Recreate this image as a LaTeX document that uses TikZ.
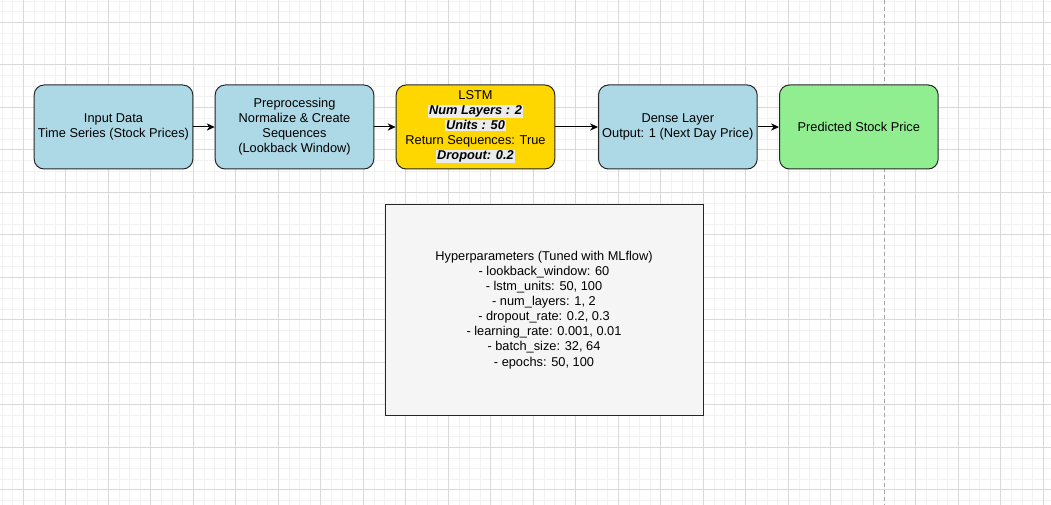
\documentclass[tikz,border=0pt]{standalone}
\usepackage{fontspec}
\setmainfont{Liberation Sans}
\usetikzlibrary{arrows.meta,positioning}
\definecolor{boxblue}{HTML}{ADD8E6}
\definecolor{boxgold}{HTML}{FFD700}
\definecolor{boxgreen}{HTML}{90EE90}
\definecolor{boxgrey}{HTML}{F5F5F5}
\definecolor{hlgrey}{HTML}{EBEBEB}
\newcommand{\hlt}[1]{{\setlength{\fboxsep}{0.6pt}\colorbox{hlgrey}{\textbf{\textit{#1}}}}}

\begin{document}
\begin{tikzpicture}[x=0.75pt, y=-0.75pt, node distance=16pt,
  every node/.style={font=\fontsize{9.6}{11.3}\selectfont},
  box/.style={draw=black!85, line width=0.75pt, rounded corners=7.5pt, align=center,
    minimum width=119pt, minimum height=63pt, inner sep=2pt},
  arr/.style={-{Stealth[length=6pt, width=5.5pt]}, line width=0.75pt},
  minorgrid/.style={draw=black!5, line width=0.5pt},
  majorgrid/.style={draw=black!15, line width=0.5pt}]
\useasboundingbox (0,0) rectangle (1051,505);
\fill[white] (0,0) rectangle (1051,505);
% canvas grid
\foreach \i in {0,...,98} \draw[minorgrid] ({2.05+\i*10.625},0) -- ({2.05+\i*10.625},505);
\foreach \j in {0,...,47} \draw[minorgrid] (0,{1.05+\j*10.625}) -- (1051,{1.05+\j*10.625});
\foreach \i in {0,...,24} \draw[majorgrid] ({23.3+\i*42.5},0) -- ({23.3+\i*42.5},505);
\foreach \j in {0,...,11} \draw[majorgrid] (0,{22.3+\j*42.5}) -- (1051,{22.3+\j*42.5});
\draw[black!35, line width=0.75pt, dash pattern=on 3pt off 2.25pt] (884.5,0) -- (884.5,505);
% pipeline
\node[box, fill=boxblue] (input) at (113.5,127) {Input Data\\Time Series (Stock Prices)};
\node[box, fill=boxblue, right=of input] (prep) {Preprocessing\\Normalize \& Create\\Sequences\\(Lookback Window)};
\node[box, fill=boxgold, right=of prep] (lstm) {LSTM\\\hlt{Num Layers : 2}\\\hlt{Units : 50}\\Return Sequences: True\\\hlt{Dropout: 0.2}};
\node[box, fill=boxblue, right=32pt of lstm] (dense) {Dense Layer\\Output: 1 (Next Day Price)};
\node[box, fill=boxgreen, right=of dense] (pred) {Predicted Stock Price};
\draw[arr] (input) -- (prep); \draw[arr] (prep) -- (lstm); \draw[arr] (lstm) -- (dense); \draw[arr] (dense) -- (pred);
% hyperparameter note
\node[draw=black!85, line width=0.75pt, fill=boxgrey, align=center, minimum width=238.5pt, minimum height=158.25pt] (hyper) at (544,310)
  {Hyperparameters (Tuned with MLflow)\\- lookback\_window: 60\\- lstm\_units: 50, 100\\- num\_layers: 1, 2\\- dropout\_rate: 0.2, 0.3\\- learning\_rate: 0.001, 0.01\\- batch\_size: 32, 64\\- epochs: 50, 100};
\end{tikzpicture}
\end{document}
